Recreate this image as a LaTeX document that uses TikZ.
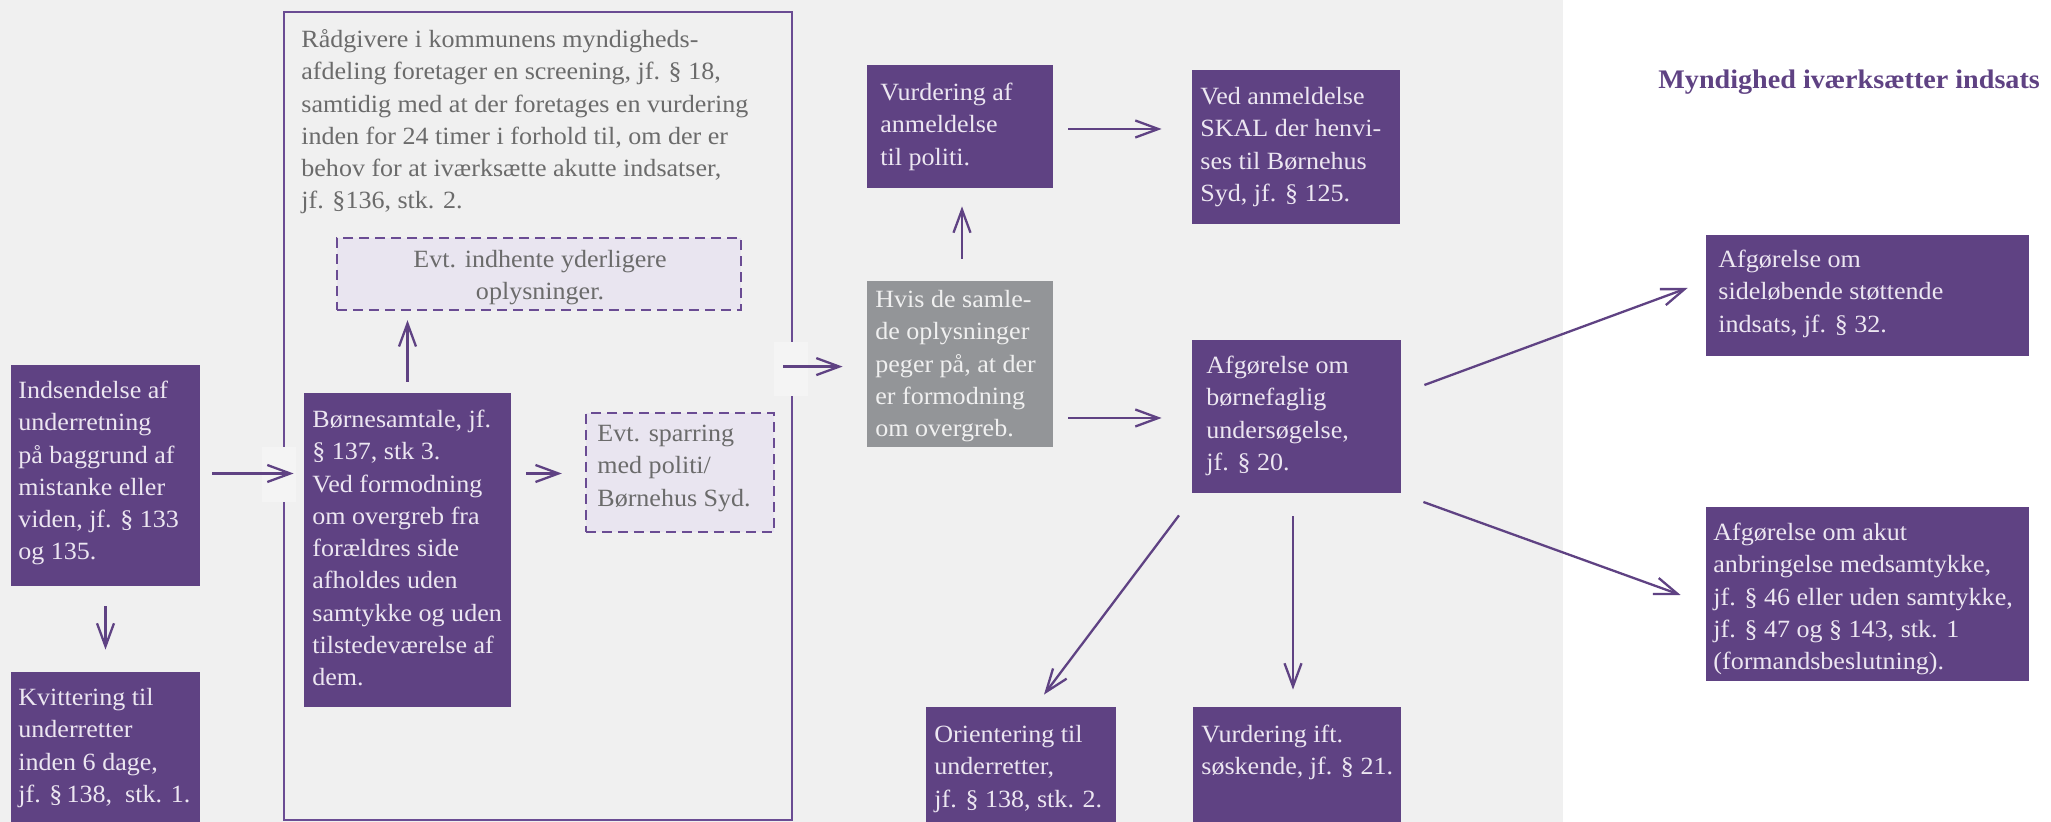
\documentclass[tikz,border=0pt]{standalone}
\usepackage{fontspec}
\setmainfont[FakeStretch=1.05]{Liberation Serif}
\usetikzlibrary{arrows.meta,calc,fit}
\definecolor{bggray}{HTML}{F0F0F0}
\definecolor{patchgray}{HTML}{F4F4F4}
\definecolor{boxpurple}{HTML}{5F4283}
\definecolor{framepurple}{HTML}{6A4C93}
\definecolor{lighttext}{HTML}{ECE6F1}
\definecolor{boxgray}{HTML}{939598}
\definecolor{graytext}{HTML}{6B6B6B}
\definecolor{dashfill}{HTML}{E9E5F0}
\newcommand\bxfont{\fontsize{12.4}{16.15}\selectfont}
\begin{document}
\begin{tikzpicture}[x=0.5pt,y=-0.5pt,
  pbox/.style={fill=boxpurple, draw=none, inner sep=0pt},
  gbox/.style={fill=boxgray, draw=none, inner sep=0pt},
  dbox/.style={fill=dashfill, draw=framepurple, line width=1.2pt, dash pattern=on 5pt off 3pt, inner sep=0pt},
  framebox/.style={draw=framepurple, line width=1.4pt, inner sep=0pt},
  ltxt/.style={anchor=north west, align=left, inner sep=0pt, font=\bxfont, text=lighttext, yshift=11.3pt},
  gtxt/.style={anchor=north west, align=left, inner sep=0pt, font=\bxfont, text=graytext, yshift=11.3pt},
  arr/.style={draw=boxpurple, line width=1.15pt, -{Straight Barb[length=11.5pt,width=8.5pt,line width=1.15pt]}},
]
\useasboundingbox (0,0) rectangle (2051,822);
\fill[white] (0,0) rectangle (2051,822);
\fill[bggray] (0,0) rectangle (1563,822);

% frame
\node[framebox, fit={(284,12)(792,820)}] (frame) {};
\fill[patchgray] (262,447) rectangle (296,502);
\fill[patchgray] (774,342) rectangle (808,396);

% boxes
\node[pbox, fit={(11,365)(200,586)}] (ind) {};
\node[pbox, fit={(11,672)(200,822)}] (kvi) {};
\node[dbox, fit={(337,238)(741,310)}] (d1) {};
\node[pbox, fit={(304,393)(511,707)}] (bs) {};
\node[dbox, fit={(586,413)(774,532)}] (d2) {};
\node[pbox, fit={(867,65)(1053,188)}] (va) {};
\node[pbox, fit={(1192,70)(1400,224)}] (van) {};
\node[gbox, fit={(867,281)(1053,447)}] (gb) {};
\node[pbox, fit={(1192,340)(1401,493)}] (af) {};
\node[pbox, fit={(926,707)(1116,822)}] (ori) {};
\node[pbox, fit={(1193,707)(1401,822)}] (vift) {};
\node[pbox, fit={(1706,235)(2029,356)}] (sid) {};
\node[pbox, fit={(1706,507)(2029,681)}] (akut) {};

% texts (positions are first baselines; yshift moves the strut top there)
\node[gtxt] (frame-t) at (301,47) {\strut Rådgivere i kommunens myndigheds-\\afdeling foretager en screening, jf. § 18,\\samtidig med at der foretages en vurdering\\inden for 24 timer i forhold til, om der er\\behov for at iværksætte akutte indsatser,\\jf. §136, stk. 2.};
\node[anchor=north, align=center, inner sep=0pt, font=\bxfont, text=graytext, yshift=11.3pt] (d1-t) at (540,267) {\strut Evt. indhente yderligere\\oplysninger.};
\node[gtxt] (d2-t) at (597,441) {\strut Evt. sparring\\med politi/\\Børnehus Syd.};
\node[ltxt] (ind-t) at (18,398) {\strut Indsendelse af\\underretning\\på baggrund af\\mistanke eller\\viden, jf. § 133\\og 135.};
\node[ltxt] (kvi-t) at (18,705) {\strut Kvittering til\\underretter\\inden 6 dage,\\jf. §\,138, \ stk. 1.};
\node[ltxt] (bs-t) at (312,427) {\strut Børnesamtale, jf.\\§ 137, stk 3.\\Ved formodning\\om overgreb fra\\forældres side\\afholdes uden\\samtykke og uden\\tilstedeværelse af\\dem.};
\node[ltxt] (va-t) at (880,100) {\strut Vurdering af\\anmeldelse\\til politi.};
\node[ltxt] (van-t) at (1200,104) {\strut Ved anmeldelse\\SKAL der henvi-\\ses til Børnehus\\Syd, jf. § 125.};
\node[ltxt, text=bggray] (gb-t) at (875,307) {\strut Hvis de samle-\\de oplysninger\\peger på, at der\\er formodning\\om overgreb.};
\node[ltxt] (af-t) at (1206,373) {\strut Afgørelse om\\børnefaglig\\undersøgelse,\\jf. § 20.};
\node[ltxt] (ori-t) at (934,742) {\strut Orientering til\\underretter,\\jf. § 138, stk. 2.};
\node[ltxt] (vift-t) at (1201,742) {\strut Vurdering ift.\\søskende, jf. § 21.};
\node[ltxt] (sid-t) at (1718,267) {\strut Afgørelse om\\sideløbende støttende\\indsats, jf. § 32.};
\node[ltxt] (akut-t) at (1713,540) {\strut Afgørelse om akut\\anbringelse medsamtykke,\\jf. § 46 eller uden samtykke,\\jf. § 47 og § 143, stk. 1\\(formandsbeslutning).};
\node[anchor=base west, inner sep=0pt, font=\fontsize{13.4}{16}\selectfont\bfseries, text=boxpurple] (head) at (1658,89) {Myndighed iværksætter indsats};

% connectors
\draw[arr] ($(ind.south)+(0,20)$) -- ($(kvi.north)+(0,-22)$);
\draw[arr] ($(ind.east)+(12,-2)$) -- ($(ind.east -| bs.west)+(-10,-2)$);
\draw[arr] ($(bs.north)+(0,-11)$) -- ($(bs.north |- d1.south)+(0,9)$);
\draw[arr] ($(bs.east |- ind.east)+(15,-2)$) -- ($(d2.west |- ind.east)+(-23,-2)$);
\coordinate (fexit) at ($(frame.north east)+(-10,356)$);
\draw[arr] (fexit) -- ($(fexit -| gb.west)+(-24,0)$);
\draw[arr] ($(gb.north)+(2,-22)$) -- ($(va.south)+(2,18)$);
\draw[arr] ($(va.east)+(15,2.5)$) -- ($(va.east -| van.west)+(-30,2.5)$);
\draw[arr] ($(gb.east |- af.west)+(15,1.5)$) -- ($(af.west)+(-30,1.5)$);
\draw[arr] ($(af.south)+(-117.5,22)$) -- ($(ori.north)+(23,-12)$);
\draw[arr] ($(af.south)+(-3.5,23)$) -- ($(vift.north)+(-4,-17)$);
\draw[arr] ($(af.east)+(23,-31.5)$) -- ($(sid.west)+(-18,-7.5)$);
\draw[arr] ($(af.east)+(22,85.5)$) -- ($(akut.west)+(-25,1)$);
\end{tikzpicture}
\end{document}
